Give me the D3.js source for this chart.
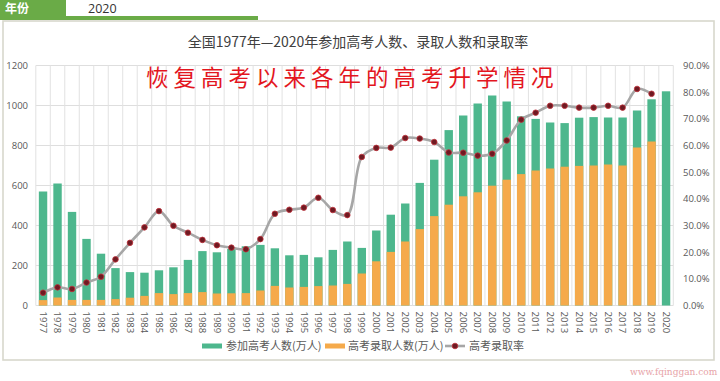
<!DOCTYPE html>
<html><head><meta charset="utf-8">
<script src="https://cdn.jsdelivr.net/npm/d3@7"></script>
<style>
html,body{margin:0;padding:0;background:#fff;}
svg{display:block;font-family:"Noto Sans CJK SC","Noto Sans",sans-serif;}
</style></head>
<body><svg id="c" width="720" height="381"></svg>
<script>
const years = ["1977","1978","1979","1980","1981","1982","1983","1984","1985","1986","1987","1988","1989","1990","1991","1992","1993","1994","1995","1996","1997","1998","1999","2000","2001","2002","2003","2004","2005","2006","2007","2008","2009","2010","2011","2012","2013","2014","2015","2016","2017","2018","2019","2020"];
const applicants = [570,610,468,333,259,187,167,164,176,191,228,272,266,283,296,303,286,251,253,241,278,320,288,375,454,510,613,729,877,950,1010,1050,1020,946,933,915,912,939,942,940,940,975,1031,1071];
const admitted = [27,40,28,28,28,32,39,48,62,57,62,67,60,61,62,75,98,90,93,97,100,108,160,221,268,320,382,447,504,546,566,599,629,657,675,685,694,698,700,705,700,790,820,null];
const rate = [4.8,6.8,6.2,8.6,10.8,17.3,23.5,29.3,35.4,29.9,27.3,24.6,22.6,21.7,21.1,24.9,34.4,35.9,36.7,40.4,35.8,33.9,55.7,59.1,59.2,62.8,62.6,61.3,57.4,57.3,56.2,56.9,61.9,69.7,72.3,74.9,74.9,74.2,74.2,74.9,74.2,81.2,79.4,null];
const leftTicks = [0,200,400,600,800,1000,1200];
const rightTicks = [0,10,20,30,40,50,60,70,80,90];
const seriesNames = ["参加高考人数(万人)","高考录取人数(万人)","高考录取率"];
const headerLabel = "年份", headerValue = "2020";
const title = "全国1977年—2020年参加高考人数、录取人数和录取率";
const subtitle = "恢复高考以来各年的高考升学情况";

const svg = d3.select("#c");
const green = "#4db78d", orange = "#f5aa4b", lineC = "#a6a6a6";

// header
svg.append("rect").attr("x",0).attr("y",0).attr("width",66).attr("height",17).attr("fill","#6aab47");
svg.append("rect").attr("x",0).attr("y",16).attr("width",258).attr("height",4).attr("fill","#6aab47");
svg.append("text").attr("x",5).attr("y",12.5).attr("fill","#fff").attr("font-size",12).attr("font-weight","bold").text(headerLabel);
svg.append("text").attr("x",88).attr("y",13).attr("fill","#333").attr("font-size",12.5).attr("font-weight","normal").attr("font-family","'Open Sans',sans-serif").text(headerValue);
// frame
svg.append("rect").attr("x",3).attr("y",21).attr("width",711).attr("height",339).attr("fill","#fff").attr("stroke","#d8d8cc").attr("stroke-width",1.6);

const x0 = 35.8, x1 = 673.3, yTop = 65.5, yBot = 305.5;
const x = d3.scaleBand().domain(years).range([x0,x1]).paddingInner(0.42).paddingOuter(0.21);
const yL = d3.scaleLinear().domain([0,1200]).range([yBot,yTop]);
const yR = d3.scaleLinear().domain([0,90]).range([yBot,yTop]);

// gridlines
const g = svg.append("g");
g.selectAll(".hg").data(leftTicks).join("line").attr("x1",x0).attr("x2",x1).attr("y1",d=>yL(d)).attr("y2",d=>yL(d)).attr("stroke","#dedede").attr("stroke-width",1);
const bounds = d3.range(years.length+1).map(i=>x0+i*(x1-x0)/years.length);
g.selectAll(".vg").data(bounds).join("line").attr("x1",d=>d).attr("x2",d=>d).attr("y1",yTop).attr("y2",yBot).attr("stroke","#e2e2e2").attr("stroke-width",1);

// bars
svg.append("g").selectAll("rect").data(years).join("rect")
 .attr("x",d=>x(d)).attr("width",x.bandwidth())
 .attr("y",(d,i)=>yL(applicants[i])).attr("height",(d,i)=>yBot-yL(applicants[i])).attr("fill",green);
svg.append("g").selectAll("rect").data(years.filter((d,i)=>admitted[i]!=null)).join("rect")
 .attr("x",d=>x(d)).attr("width",x.bandwidth())
 .attr("y",d=>yL(admitted[years.indexOf(d)])).attr("height",d=>yBot-yL(admitted[years.indexOf(d)])).attr("fill",orange);

// line
const pts = years.map((d,i)=>({d,v:rate[i]})).filter(p=>p.v!=null);
const line = d3.line().x(p=>x(p.d)+x.bandwidth()/2).y(p=>yR(p.v)).curve(d3.curveCatmullRom.alpha(0.5));
svg.append("path").attr("d",line(pts)).attr("fill","none").attr("stroke",lineC).attr("stroke-width",2.6);
svg.append("g").selectAll("circle").data(pts).join("circle")
 .attr("cx",p=>x(p.d)+x.bandwidth()/2).attr("cy",p=>yR(p.v)).attr("r",2.8)
 .attr("fill","#6e1a22").attr("stroke","#c0303a").attr("stroke-width",0.8);

// axes
const axL = d3.axisLeft(yL).tickValues(leftTicks).tickSize(0).tickPadding(0).tickFormat(d3.format("d"));
const gl = svg.append("g").attr("transform","translate(28,0)").call(axL);
gl.select(".domain").remove();
gl.selectAll("text").attr("fill","#595959").attr("font-size",9.5).attr("font-family","'Open Sans',sans-serif");
const axR = d3.axisRight(yR).tickValues(rightTicks).tickSize(0).tickPadding(0).tickFormat(d=>d.toFixed(1)+"%");
const gr = svg.append("g").attr("transform","translate(683,0)").call(axR);
gr.select(".domain").remove();
gr.selectAll("text").attr("fill","#595959").attr("font-size",9.5).attr("font-family","'Open Sans',sans-serif");
const axB = d3.axisBottom(x).tickSize(0).tickPadding(0);
const gb = svg.append("g").attr("transform",`translate(0,${yBot})`).call(axB);
gb.select(".domain").remove();
gb.selectAll("text").attr("fill","#595959").attr("font-size",9.5).attr("font-family","'Open Sans',sans-serif")
 .attr("transform","rotate(90)").attr("text-anchor","start").attr("x",6).attr("y",0).attr("dy","0.35em");

// titles
svg.append("text").attr("x",358).attr("y",47).attr("text-anchor","middle").attr("fill","#404040").attr("font-size",14).text(title);
svg.append("text").attr("x",146).attr("y",86).attr("fill","#e3161e").attr("font-size",22.5).attr("letter-spacing",5).text(subtitle);

// legend
const lg = svg.append("g");
lg.append("rect").attr("x",202).attr("y",343.5).attr("width",20).attr("height",5).attr("fill",green);
lg.append("text").attr("x",226).attr("y",350).attr("font-size",11).attr("fill","#595959").text(seriesNames[0]);
lg.append("rect").attr("x",325).attr("y",343.5).attr("width",20).attr("height",5).attr("fill",orange);
lg.append("text").attr("x",348).attr("y",350).attr("font-size",11).attr("fill","#595959").text(seriesNames[1]);
lg.append("line").attr("x1",445).attr("x2",465).attr("y1",346).attr("y2",346).attr("stroke",lineC).attr("stroke-width",2.6);
lg.append("circle").attr("cx",455).attr("cy",346).attr("r",2.8).attr("fill","#6e1a22").attr("stroke","#c0303a").attr("stroke-width",0.8);
lg.append("text").attr("x",469).attr("y",350).attr("font-size",11).attr("fill","#595959").text(seriesNames[2]);

// watermark
svg.append("text").attr("x",630).attr("y",375).attr("font-size",9).attr("fill","#e7a3a8").attr("font-family","'DejaVu Serif',serif").text("www.fqinggan.com");
</script></body></html>
